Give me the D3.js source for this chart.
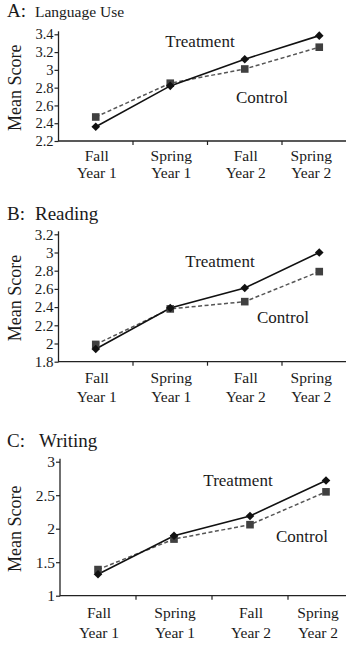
<!DOCTYPE html>
<html>
<head>
<meta charset="utf-8">
<script src="https://cdn.jsdelivr.net/npm/d3@7"></script>
<style>
  body { margin: 0; background: #fff; }
  svg { display: block; }
  text { font-family: "Liberation Serif", "Times New Roman", serif; }
</style>
</head>
<body>
<svg id="chart" width="346" height="646"></svg>
<script>
// data
var waves = ["Fall\nYear 1", "Spring\nYear 1", "Fall\nYear 2", "Spring\nYear 2"];

var langTreatment = [2.36, 2.82, 3.12, 3.385];
var langControl   = [2.47, 2.85, 3.01, 3.255];
var langTicks     = [2.2, 2.4, 2.6, 2.8, 3, 3.2, 3.4];

var readTreatment = [1.94, 2.39, 2.61, 3.0];
var readControl   = [1.99, 2.38, 2.46, 2.79];
var readTicks     = [1.8, 2, 2.2, 2.4, 2.6, 2.8, 3, 3.2];

var writeTreatment = [1.32, 1.895, 2.19, 2.72];
var writeControl   = [1.39, 1.845, 2.06, 2.55];
var writeTicks     = [1, 1.5, 2, 2.5, 3];

var svg = d3.select("#chart");

function drawPanel(p) {
  var g = svg.append("g").attr("font-family", "Liberation Serif");

  var x = d3.scaleBand().domain(waves).range([p.left, p.right]);
  var y = d3.scaleLinear().domain([p.ticks[0], p.ticks[p.ticks.length - 1]]).range([p.bottom, p.top]);

  // title
  var t = g.append("text").attr("x", 7).attr("y", p.titleY).attr("fill", "#1a1a1a");
  t.append("tspan").attr("font-size", 19).text(p.letter);
  t.append("tspan").attr("x", p.nameX).attr("font-size", p.nameSize).text(p.name);

  // y axis
  var yAxis = g.append("g")
      .attr("transform", "translate(" + p.left + ",0)")
      .call(d3.axisLeft(y).tickValues(p.ticks).tickSize(4).tickSizeOuter(0).tickFormat(d3.format("")));
  yAxis.attr("font-family", "Liberation Serif");
  yAxis.select(".domain").attr("stroke", "#222").attr("stroke-width", 1.3)
      .attr("d", "M0," + (p.top - 3) + "V" + (p.bottom + 0.5));
  yAxis.selectAll(".tick line").attr("stroke", "#222").attr("stroke-width", 1.2);
  yAxis.selectAll(".tick text")
      .attr("x", -5)
      .attr("font-size", p.tickSize)
      .attr("fill", "#1a1a1a");

  // x axis (ticks between categories)
  var xg = g.append("g").attr("transform", "translate(0," + p.bottom + ")");
  xg.append("line")
      .attr("x1", p.left).attr("x2", p.right)
      .attr("stroke", "#222").attr("stroke-width", 1.3);
  xg.selectAll(".bt")
      .data(waves.slice(0, -1))
    .enter().append("line")
      .attr("x1", function(d) { return x(d) + x.step(); })
      .attr("x2", function(d) { return x(d) + x.step(); })
      .attr("y1", 0).attr("y2", 4)
      .attr("stroke", "#222").attr("stroke-width", 1.2);

  var lab = g.selectAll(".lab")
      .data(waves)
    .enter().append("text")
      .attr("text-anchor", "middle")
      .attr("font-size", 15.5)
      .attr("fill", "#1a1a1a")
      .attr("transform", function(d, i) {
        var cx = x(d) + x.bandwidth() / 2 + (i === waves.length - 1 ? -8 : 1);
        return "translate(" + cx + ",0)";
      });
  lab.selectAll("tspan")
      .data(function(d) { return d.split("\n"); })
    .enter().append("tspan")
      .attr("x", 0)
      .attr("y", function(d, i) { return p.labY + i * p.labGap; })
      .text(function(d) { return d; });

  // y title
  g.append("text")
      .attr("transform", "translate(21," + ((p.top + p.bottom) / 2) + ") rotate(-90)")
      .attr("text-anchor", "middle")
      .attr("font-size", 18)
      .attr("fill", "#1a1a1a")
      .text("Mean Score");

  var cx = function(d, i) { return x(waves[i]) + x.bandwidth() / 2; };

  // control: dashed gray with squares
  g.append("path")
      .datum(p.control)
      .attr("fill", "none")
      .attr("stroke", "#555")
      .attr("stroke-width", 1.5)
      .attr("stroke-dasharray", "4,2.5")
      .attr("d", d3.line().x(cx).y(function(d) { return y(d); }));

  // treatment: solid black with diamonds
  g.append("path")
      .datum(p.treatment)
      .attr("fill", "none")
      .attr("stroke", "#111")
      .attr("stroke-width", 1.6)
      .attr("d", d3.line().x(cx).y(function(d) { return y(d); }));

  g.selectAll(".sq")
      .data(p.control)
    .enter().append("rect")
      .attr("x", function(d, i) { return cx(d, i) - 3.8; })
      .attr("y", function(d) { return y(d) - 3.8; })
      .attr("width", 7.6).attr("height", 7.6)
      .attr("fill", "#404040");

  g.selectAll(".dm")
      .data(p.treatment)
    .enter().append("path")
      .attr("transform", function(d, i) { return "translate(" + cx(d, i) + "," + y(d) + ")"; })
      .attr("d", "M0,-4.3L4.3,0L0,4.3L-4.3,0Z")
      .attr("fill", "#111");

  // series labels
  g.append("text")
      .attr("x", p.treatLabel[0]).attr("y", p.treatLabel[1])
      .attr("text-anchor", "middle").attr("font-size", 17).attr("fill", "#1a1a1a")
      .text("Treatment");
  g.append("text")
      .attr("x", p.ctrlLabel[0]).attr("y", p.ctrlLabel[1])
      .attr("text-anchor", "middle").attr("font-size", 17).attr("fill", "#1a1a1a")
      .text("Control");
}

drawPanel({
  letter: "A:", name: "Language Use", nameX: 35, nameSize: 15.5, titleY: 17,
  left: 58.5, right: 356.5, top: 34.3, bottom: 141,
  ticks: langTicks, tickSize: 14.5,
  treatment: langTreatment, control: langControl,
  labY: 161, labGap: 16.5,
  treatLabel: [200, 47], ctrlLabel: [262, 103]
});

drawPanel({
  letter: "B:", name: "Reading", nameX: 35, nameSize: 19, titleY: 220,
  left: 58.5, right: 356.5, top: 234.3, bottom: 361.7,
  ticks: readTicks, tickSize: 15,
  treatment: readTreatment, control: readControl,
  labY: 383, labGap: 19,
  treatLabel: [220, 267], ctrlLabel: [283, 323]
});

drawPanel({
  letter: "C:", name: "Writing", nameX: 39, nameSize: 19, titleY: 447,
  left: 60, right: 364, top: 461.7, bottom: 595.7,
  ticks: writeTicks, tickSize: 15.5,
  treatment: writeTreatment, control: writeControl,
  labY: 618, labGap: 19.5,
  treatLabel: [238, 486], ctrlLabel: [302, 542]
});
</script>
</body>
</html>
